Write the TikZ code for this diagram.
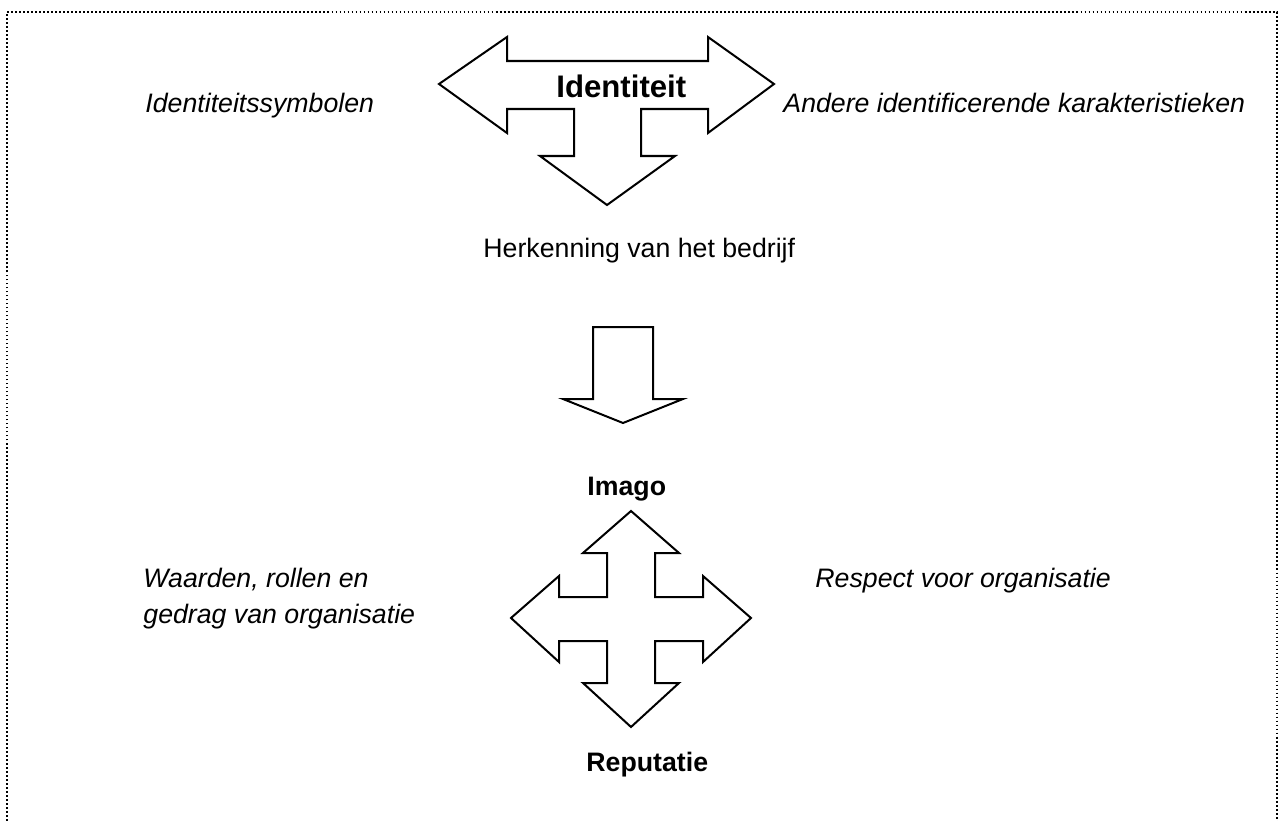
\documentclass[tikz,border=0pt]{standalone}
\usepackage{fontspec}
\setmainfont{Liberation Sans}
\begin{document}
\begin{tikzpicture}[x=0.4494pt,y=-0.4494pt,
  blockarrow/.style={draw=black,line width=0.9pt,line join=miter,fill=white},
  frameline/.style={line width=0.8pt,dash pattern=on 0.8pt off 1.0pt},
  lbl/.style={inner sep=0pt,anchor=base west,font=\fontsize{12pt}{14pt}\selectfont},
  ilbl/.style={lbl,font=\fontsize{12pt}{14pt}\selectfont\itshape},
  blbl/.style={lbl,font=\fontsize{12pt}{14pt}\selectfont\bfseries}]
\useasboundingbox (0,0) rectangle (1279,821);

% dotted frame, open at the bottom
\draw[frameline] (7,821) -- (7,12) -- (1277,12) -- (1277,821);

% three-way arrow: left, right and down
\draw[blockarrow] (439,84) -- (507,37) -- (507,61) -- (708,61) -- (708,37)
  -- (774,84) -- (708,133) -- (708,109) -- (641,109) -- (641,156) -- (675,156)
  -- (607,205) -- (540,156) -- (574,156) -- (574,109) -- (507,109) -- (507,133)
  -- cycle;

% single downward arrow
\draw[blockarrow] (593,327) -- (653,327) -- (653,399) -- (683,399) -- (623,423)
  -- (563,399) -- (593,399) -- cycle;

% four-way arrow
\draw[blockarrow] (631,511) -- (679,553) -- (655,553) -- (655,597) -- (703,597)
  -- (703,576) -- (751,618) -- (703,662) -- (703,641) -- (655,641) -- (655,683)
  -- (679,683) -- (631,727) -- (583,683) -- (607,683) -- (607,641) -- (559,641)
  -- (559,662) -- (511,618) -- (559,576) -- (559,597) -- (607,597) -- (607,553)
  -- (583,553) -- cycle;

% labels
\node[lbl,font=\fontsize{14pt}{16pt}\selectfont\bfseries] (identiteit) at (556,98) {Identiteit};
\node[ilbl] (symbolen) at (145,112) {Identiteitssymbolen};
\node[ilbl] (kenmerken) at (783,112) {Andere identificerende karakteristieken};
\node[lbl] (herkenning) at (483,257) {Herkenning van het bedrijf};
\node[blbl] (imago) at (587,495) {Imago};
\node[ilbl] (waarden) at (143,587) {Waarden, rollen en};
\node[ilbl] (gedrag) at (143,623) {gedrag van organisatie};
\node[ilbl] (respect) at (815,587) {Respect voor organisatie};
\node[blbl] (reputatie) at (586,771) {Reputatie};
\end{tikzpicture}
\end{document}
